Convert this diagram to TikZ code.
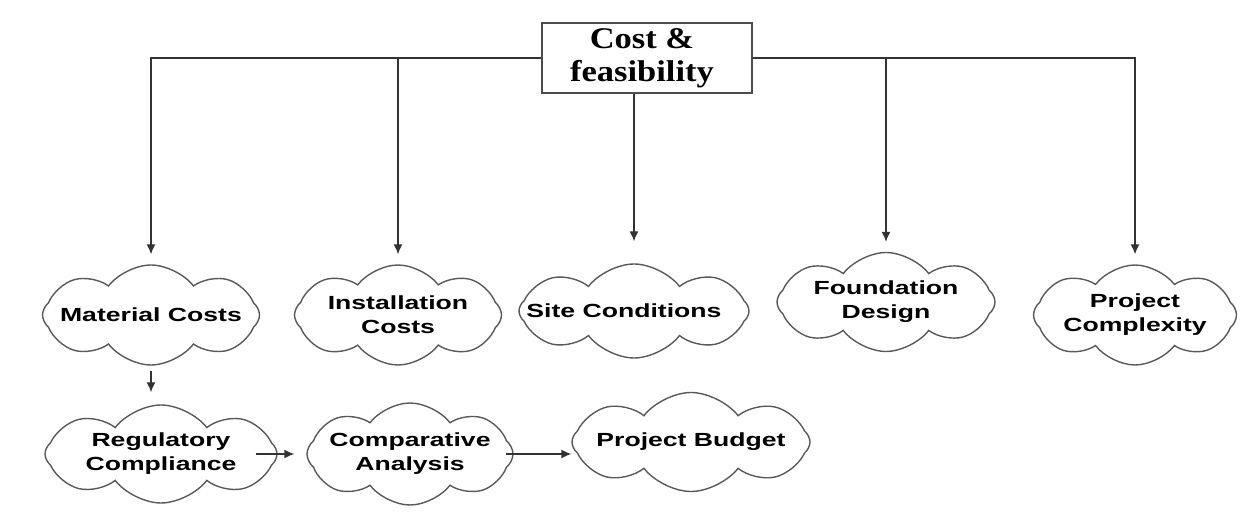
\documentclass[tikz,border=0pt]{standalone}
\usepackage{fontspec}
\usetikzlibrary{shapes.symbols,arrows.meta,positioning}
\newfontfamily\cloudfont[FakeStretch=1.4]{Liberation Sans}
\newfontfamily\titlefont[FakeStretch=1.15]{Liberation Serif}

\tikzstyle{block} = [
	draw=black!70,
	line width=0.9pt,
	minimum width=105pt,
	minimum height=35pt,
	inner sep=0pt,
	align=center,
	font=\titlefont\bfseries\fontsize{15}{16.5}\selectfont
]
\tikzstyle{cloudbox} = [
	cloud,
	cloud puffs=8,
	cloud puff arc=105,
	cloud ignores aspect,
	draw=black!65,
	line width=0.7pt,
	inner sep=0pt
]
\tikzstyle{cloudtext} = [font=\cloudfont\bfseries\fontsize{9.5}{12}\selectfont, align=center, inner sep=0pt]
\tikzstyle{wire} = [draw=black!80, line width=0.7pt]
\tikzstyle{flow} = [wire, -{Latex[length=5pt,width=4.5pt]}]

\begin{document}
\begin{tikzpicture}[x=0.5pt, y=-0.5pt]
	\useasboundingbox (0,0) rectangle (1249,523);
	\node[block, name = cost] at (647,58) {Cost \&\hspace*{5pt}\\feasibility\hspace*{5pt}};

	% first row
	\node[cloudbox, name = mat, minimum width=108.5pt, minimum height=50pt] at (151,315) {};
	\node[cloudbox, name = inst, minimum width=103.5pt, minimum height=50pt] at (398,315) {};
	\node[cloudbox, name = site, minimum width=115pt, minimum height=47pt] at (634,311) {};
	\node[cloudbox, name = found, minimum width=109pt, minimum height=49.5pt] at (886,302) {};
	\node[cloudbox, name = cplx, minimum width=101.5pt, minimum height=50pt] at (1135,315) {};
	% second row
	\node[cloudbox, name = reg, minimum width=116pt, minimum height=49pt] at (161,454) {};
	\node[cloudbox, name = comp, minimum width=103pt, minimum height=51pt] at (410,454) {};
	\node[cloudbox, name = budg, minimum width=119pt, minimum height=49.5pt] at (691,442) {};

	\node[cloudtext, name = mattxt] at (mat) {Material Costs};
	\node[cloudtext, name = insttxt] at (inst) {Installation\\Costs};
	\node[cloudtext, name = sitetxt] at ([xshift=-5pt]site) {Site Conditions};
	\node[cloudtext, name = foundtxt] at (found) {Foundation\\Design};
	\node[cloudtext, name = cplxtxt] at (cplx) {Project\\Complexity};
	\node[cloudtext, name = regtxt] at (reg) {Regulatory\\Compliance};
	\node[cloudtext, name = comptxt] at (comp) {Comparative\\Analysis};
	\node[cloudtext, name = budgtxt] at (budg) {Project Budget};

	\draw[flow, shorten >=5pt] (cost.west) -| (mat.north);
	\draw[flow, shorten >=5pt] (cost.west) -| (inst.north);
	\draw[flow, shorten >=11pt] (cost.south -| site.north) -- (site.north);
	\draw[flow, shorten >=5pt] (cost.east) -| (found.north);
	\draw[flow, shorten >=5pt] (cost.east) -| (cplx.north);

	\draw[flow, shorten <=2.5pt, shorten >=6pt] (mat.south) -- (mat.south |- reg.north);
	\draw[flow, shorten <=-11pt, shorten >=6pt] (reg.east) -- (reg.east -| comp.west);
	\draw[flow, shorten <=-4pt] (comp.east) -- (comp.east -| budg.west);
\end{tikzpicture}
\end{document}
